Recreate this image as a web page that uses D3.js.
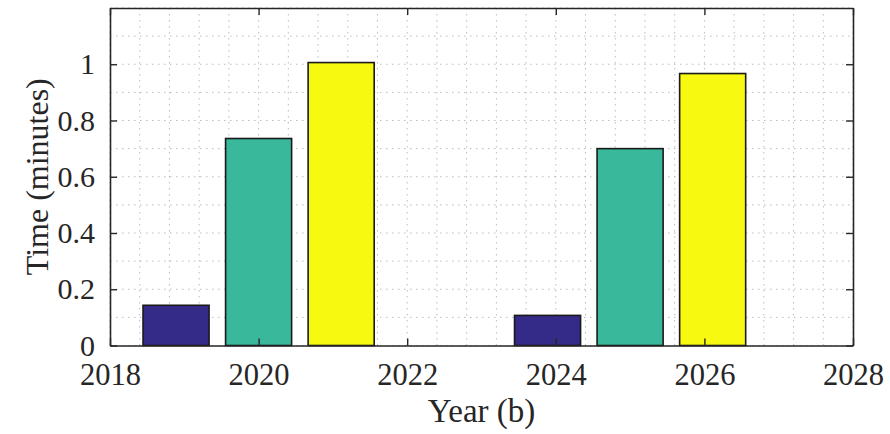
<!DOCTYPE html>
<html>
<head>
<meta charset="utf-8">
<script src="https://cdn.jsdelivr.net/npm/d3@7"></script>
<style>
  body { margin: 0; background: #fff; }
  text { font-family: "Liberation Serif", "Times New Roman", Times, serif; }
</style>
</head>
<body>
<svg id="chart"></svg>
<script>
// chart data
const groupYears = [2020, 2025];
const series1 = [0.143, 0.107];
const series2 = [0.736, 0.700];
const series3 = [1.006, 0.967];
const seriesColors = ['#342a87', '#39b89b', '#f7f911'];
const xTickLabels = [2018, 2020, 2022, 2024, 2026, 2028];
const yTickLabels = [0, 0.2, 0.4, 0.6, 0.8, 1];

const width = 890;
const height = 434;
const margin = { top: 8, right: 37, bottom: 89, left: 110 };
const serif = 'Liberation Serif';

const svg = d3.select('#chart')
  .attr('width', width)
  .attr('height', height);

// scales
const x = d3.scaleLinear()
  .domain([2018, 2028])
  .range([margin.left, width - margin.right]);

const y = d3.scaleLinear()
  .domain([0, 1.2])
  .range([height - margin.bottom + 0.5, margin.top]);

// grid (minor + major, dotted like matlab)
const grid = svg.append('g');
const xMinor = d3.range(2018, 2028.001, 0.4);
const yMinor = d3.range(0, 1.2001, 0.1);

grid.selectAll('.vgrid')
  .data(xMinor)
  .join('line')
    .attr('x1', d => x(d)).attr('x2', d => x(d))
    .attr('y1', y(0)).attr('y2', y(1.2))
    .attr('stroke', '#bcbcbc')
    .attr('stroke-width', 1)
    .attr('stroke-dasharray', '1.5,4.5');

grid.selectAll('.hgrid')
  .data(yMinor)
  .join('line')
    .attr('x1', x(2018)).attr('x2', x(2028))
    .attr('y1', d => y(d)).attr('y2', d => y(d))
    .attr('stroke', '#bcbcbc')
    .attr('stroke-width', 1)
    .attr('stroke-dasharray', '1.5,4.5');

// grouped bars, matlab style offsets
const allSeries = [series1, series2, series3];
const nSeries = allSeries.length;
const spacing = groupYears[1] - groupYears[0];
const groupWidth = Math.min(0.8, nSeries / (nSeries + 1.5));
const step = groupWidth / nSeries * spacing;
const barW = 0.8 * step;

const bars = svg.append('g');
allSeries.forEach((vals, s) => {
  const off = (s - (nSeries - 1) / 2) * step;
  bars.selectAll('.bar' + s)
    .data(vals)
    .join('rect')
      .attr('x', (d, i) => x(groupYears[i] + off - barW / 2))
      .attr('y', d => y(d))
      .attr('width', x(2018 + barW) - x(2018))
      .attr('height', d => y(0) - y(d))
      .attr('fill', seriesColors[s])
      .attr('stroke', '#1a1a1a')
      .attr('stroke-width', 1.6);
});

// axes with inward ticks on all sides
const axisColor = '#262626';
const tickLen = 7;

const xAxis = (g) => {
  g.attr('transform', `translate(0,${y(0)})`)
    .call(d3.axisBottom(x).tickValues(xTickLabels).tickFormat(d3.format('d'))
      .tickSizeInner(-tickLen).tickSizeOuter(0).tickPadding(18))
    .attr('font-size', '30.5px')
    .attr('font-family', serif)
    .attr('color', axisColor);
  g.select('.domain').attr('stroke-width', 1.6);
  g.selectAll('.tick line').attr('stroke-width', 1.4);
  g.selectAll('.tick text').attr('fill', '#262626');
};

const yAxis = (g) => {
  g.attr('transform', `translate(${x(2018)},0)`)
    .call(d3.axisLeft(y).tickValues(yTickLabels).tickFormat(d => d)
      .tickSizeInner(-tickLen).tickSizeOuter(0).tickPadding(15))
    .attr('font-size', '30px')
    .attr('font-family', serif)
    .attr('color', axisColor);
  g.select('.domain').attr('stroke-width', 1.6);
  g.selectAll('.tick line').attr('stroke-width', 1.4);
  g.selectAll('.tick text').attr('fill', '#262626');
};

const xTop = (g) => {
  g.attr('transform', `translate(0,${y(1.2)})`)
    .call(d3.axisTop(x).tickValues(xTickLabels).tickFormat('')
      .tickSizeInner(-tickLen).tickSizeOuter(0))
    .attr('color', axisColor);
  g.select('.domain').attr('stroke-width', 1.6);
  g.selectAll('.tick line').attr('stroke-width', 1.4);
};

const yRight = (g) => {
  g.attr('transform', `translate(${x(2028)},0)`)
    .call(d3.axisRight(y).tickValues(yTickLabels).tickFormat('')
      .tickSizeInner(-tickLen).tickSizeOuter(0))
    .attr('color', axisColor);
  g.select('.domain').attr('stroke-width', 1.6);
  g.selectAll('.tick line').attr('stroke-width', 1.4);
};

svg.append('g').call(xTop);
svg.append('g').call(yRight);
svg.append('g').call(xAxis);
svg.append('g').call(yAxis);

// axis labels
svg.append('text')
  .attr('x', (x(2018) + x(2028)) / 2)
  .attr('y', 422)
  .attr('text-anchor', 'middle')
  .attr('font-size', '33px')
  .attr('font-family', serif)
  .attr('fill', '#262626')
  .text('Year (b)');

svg.append('text')
  .attr('transform', `translate(48,${(y(0) + y(1.2)) / 2}) rotate(-90)`)
  .attr('text-anchor', 'middle')
  .attr('font-size', '32px')
  .attr('font-family', serif)
  .attr('fill', '#262626')
  .text('Time (minutes)');
</script>
</body>
</html>
